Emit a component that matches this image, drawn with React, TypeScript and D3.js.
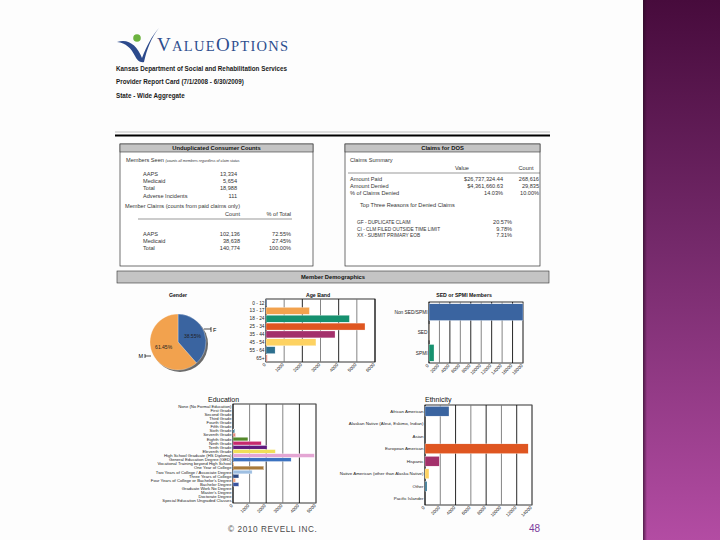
import { scaleBand, scaleLinear, pie, arc } from "d3";

const FONT = "Liberation Sans, Arial, sans-serif";

// palette used by the report charts
const palette = [
  "#3a64a0", "#f2a24e", "#16916f", "#df5621", "#a3306b", "#fdd262",
  "#2d6f8e", "#e4887a", "#54882a", "#c62a6e", "#5e1a7e", "#f0df58",
  "#e4a6d4", "#3b72c0", "#f4b06e", "#a87a3a", "#9ebfe2", "#2c4a84",
  "#f4a47e", "#3954a0", "#888888", "#555555", "#aaaaaa", "#777777",
];

const genderCats = ["F", "M"];
const genderPct = [38.55, 61.45];

const ageBands = ["0 - 12", "13 - 17", "18 - 24", "25 - 34", "35 - 44", "45 - 54", "55 - 64", "65+"];
const ageCounts = [40, 2390, 4590, 5450, 3800, 2750, 500, 70];
const ageTicks = [0, 1000, 2000, 3000, 4000, 5000, 6000];

const sedCats = ["Non SED/SPMI", "SED", "SPMI"];
const sedCounts = [18000, 30, 960];
const sedTicks = [0, 2000, 4000, 6000, 8000, 10000, 12000, 14000, 16000, 18000];

const eduCats = [
  "None (No Formal Education)", "First Grade", "Second Grade", "Third Grade",
  "Fourth Grade", "Fifth Grade", "Sixth Grade", "Seventh Grade", "Eighth Grade",
  "Ninth Grade", "Tenth Grade", "Eleventh Grade", "High School Graduate (HS Diploma)",
  "General Education Degree (GED)", "Vocational Training beyond High School",
  "One Year of College", "Two Years of College / Associate Degree",
  "Three Years of College", "Four Years of College or Bachelor's Degree",
  "Bachelor Degree", "Graduate Work No Degree", "Master's Degree",
  "Doctorate Degree", "Special Education Ungraded Classes",
];
const eduCounts = [0, 0, 0, 0, 0, 0, 100, 150, 900, 1700, 2050, 2550, 4900, 3500, 60, 1850, 1150, 350, 150, 350, 0, 0, 0, 0];
const eduTicks = [0, 1000, 2000, 3000, 4000, 5000];

const ethCats = [
  "African American", "Alaskan Native (Aleut, Eskimo, Indian)", "Asian",
  "European American", "Hispanic", "Native American (other than Alaska Native)",
  "Other", "Pacific Islander",
];
const ethCounts = [3140, 0, 0, 13500, 1870, 520, 260, 0];
const ethTicks = [0, 2000, 4000, 6000, 8000, 10000, 12000, 14000];

const seenRows = [
  ["AAPS", "13,334"],
  ["Medicaid", "5,654"],
  ["Total", "18,988"],
  ["Adverse Incidents", "111"],
];
const claimRows = [
  ["AAPS", "102,136", "72.55%"],
  ["Medicaid", "38,638", "27.45%"],
  ["Total", "140,774", "100.00%"],
];
const summaryRows = [
  ["Amount Paid", "$26,737,324.44", "268,616"],
  ["Amount Denied", "$4,361,660.63", "29,835"],
  ["% of Claims Denied", "14.03%", "10.00%"],
];
const denyRows = [
  ["GF - DUPLICATE CLAIM", "20.57%"],
  ["CI - CLM FILED OUTSIDE TIME LIMIT", "9.78%"],
  ["XX - SUBMIT PRIMARY EOB", "7.31%"],
];

function HBar({ x0, x1, y0, y1, cats, vals, ticks, pad, fs }: any) {
  const x = scaleLinear().domain([0, ticks[ticks.length - 1]]).range([x0, x1]);
  const y = scaleBand().domain(cats).range([y0, y1]).paddingInner(pad).paddingOuter(pad / 2);
  return (
    <g fontFamily={FONT}>
      <rect x={x0} y={y0} width={x1 - x0} height={y1 - y0} fill="#fff" stroke="#000" strokeWidth={0.8} />
      {ticks.map((t: number, i: number) => (
        <line key={t} x1={x(t)} x2={x(t)} y1={y0} y2={y1} stroke={i % 2 ? "#777" : "#111"} strokeWidth={0.9} />
      ))}
      {cats.map((c: string, i: number) => (
        <rect key={c} x={x(0)} y={y(c)} width={Math.max(0, x(vals[i]) - x(0))} height={y.bandwidth()}
          fill={palette[i]} stroke="#fff" strokeWidth={0.3} />
      ))}
      {cats.map((c: string) => (
        <text key={c} x={x0 - 1.5} y={(y(c) as number) + y.bandwidth() / 2} dy="0.35em" textAnchor="end"
          fontSize={fs} fill="#222">{c}</text>
      ))}
      {ticks.map((t: number) => (
        <text key={t} x={x(t)} y={y1 + 3} textAnchor="end" fontSize={4.6} fill="#222"
          transform={`rotate(-45, ${x(t)}, ${y1 + 3})`}>{t}</text>
      ))}
    </g>
  );
}

function Gender() {
  const cx = 178, cy = 342, r = 28;
  const arcs = pie<number>().sort(null)(genderPct);
  const a = arc<any>().innerRadius(0).outerRadius(r);
  const lab = arc<any>().innerRadius(r * 0.55).outerRadius(r * 0.55);
  return (
    <g fontFamily={FONT}>
      <circle cx={cx + 2} cy={cy + 2} r={r} fill="#6a6a6a" />
      <g transform={`translate(${cx},${cy})`}>
        {arcs.map((d, i) => (
          <path key={i} d={a(d) as string} fill={i === 0 ? palette[0] : palette[1]} stroke="#fff" strokeWidth={0.3} />
        ))}
        {arcs.map((d, i) => {
          const [lx, ly] = lab.centroid(d);
          return (
            <text key={i} x={lx} y={ly} dy="0.35em" textAnchor="middle" fontSize={5} fill="#222">
              {genderPct[i].toFixed(2)}%
            </text>
          );
        })}
      </g>
      <path d="M204,329 H211 M211,327 V332" stroke="#000" strokeWidth={0.7} fill="none" />
      <text x={213} y={330} dy="0.35em" fontSize={5.5}>{genderCats[0]}</text>
      <path d="M151,356 H145 M145,354 V358" stroke="#000" strokeWidth={0.7} fill="none" />
      <text x={143} y={356} dy="0.35em" textAnchor="end" fontSize={5.5}>{genderCats[1]}</text>
    </g>
  );
}

function Logo() {
  return (
    <g>
      <path d="M117,42 C128,38 137,45 142,58 C147,45 152,36 159,28 C151,38 147,49 144,62 C140,63 137,60 135,56 C131,48 126,43 117,42 Z"
        fill="#2c4a8c" />
      <circle cx={137} cy={38} r={3.8} fill="#6cb33f" />
      <text x={157} y={51} fontFamily="Liberation Serif, Times New Roman, serif" fill="#2d4e8e" letterSpacing={1.3}>
        <tspan fontSize={19}>V</tspan>
        <tspan fontSize={14.5}>ALUE</tspan>
        <tspan fontSize={19}>O</tspan>
        <tspan fontSize={14.5}>PTIONS</tspan>
      </text>
    </g>
  );
}

function BoxHeader({ x, y, w, h, title }: any) {
  return (
    <g>
      <rect x={x} y={y} width={w} height={h} fill="#c4c4c4" stroke="#333" strokeWidth={0.6} />
      <text x={x + w / 2} y={y + h / 2} dy="0.35em" textAnchor="middle" fontSize={5.8} fontWeight="bold"
        fontFamily={FONT} fill="#111">{title}</text>
    </g>
  );
}

export default function App() {
  return (
    <svg width={720} height={540} style={{ position: "absolute", left: 0, top: 0 }}>
      <defs>
        <linearGradient id="side" x1="0" y1="0" x2="0" y2="1">
          <stop offset="0%" stopColor="#470b3c" />
          <stop offset="45%" stopColor="#74296a" />
          <stop offset="100%" stopColor="#b34ca3" />
        </linearGradient>
        <linearGradient id="edge" x1="0" y1="0" x2="1" y2="0">
          <stop offset="0%" stopColor="#2a0a25" stopOpacity={0.7} />
          <stop offset="100%" stopColor="#2a0a25" stopOpacity={0} />
        </linearGradient>
      </defs>
      <rect width={720} height={540} fill="#fdfdfd" />
      <rect x={643} y={0} width={77} height={540} fill="url(#side)" />
      <rect x={643} y={0} width={4} height={540} fill="url(#edge)" />

      <Logo />
      <g fontFamily={FONT} fontWeight="bold" fontSize={6.3} fill="#1a1a1a">
        <text x={116} y={71}>Kansas Department of Social and Rehabilitation Services</text>
        <text x={116} y={84}>Provider Report Card (7/1/2008 - 6/30/2009)</text>
        <text x={116} y={98}>State - Wide Aggregate</text>
      </g>

      <line x1={115} x2={550} y1={132} y2={132} stroke="#999" strokeWidth={0.6} />
      <line x1={115} x2={550} y1={135.5} y2={135.5} stroke="#000" strokeWidth={2} />

      {/* Unduplicated consumer counts */}
      <rect x={120} y={144} width={193} height={122} fill="#fff" stroke="#333" strokeWidth={0.7} />
      <BoxHeader x={120} y={144} w={193} h={8} title="Unduplicated Consumer Counts" />
      <g fontFamily={FONT} fill="#333" fontSize={5.6}>
        <text x={126} y={162}>Members Seen <tspan fontSize={3.6} fontStyle="italic">(counts all members regardless of claim status</tspan></text>
        {seenRows.map((r, i) => (
          <g key={r[0]}>
            <text x={143} y={176 + i * 7.2}>{r[0]}</text>
            <text x={237} y={176 + i * 7.2} textAnchor="end">{r[1]}</text>
          </g>
        ))}
        <text x={125} y={208}>Member Claims (counts from paid claims only)</text>
        <text x={240} y={216} textAnchor="end">Count</text>
        <text x={291} y={216} textAnchor="end">% of Total</text>
        <line x1={138} x2={292} y1={219} y2={219} stroke="#333" strokeWidth={0.5} />
        {claimRows.map((r, i) => (
          <g key={r[0]}>
            <text x={143} y={236 + i * 7}>{r[0]}</text>
            <text x={240} y={236 + i * 7} textAnchor="end">{r[1]}</text>
            <text x={291} y={236 + i * 7} textAnchor="end">{r[2]}</text>
          </g>
        ))}
      </g>

      {/* Claims for DOS */}
      <rect x={345} y={144} width={195} height={122} fill="#fff" stroke="#333" strokeWidth={0.7} />
      <BoxHeader x={345} y={144} w={195} h={8} title="Claims for DOS" />
      <g fontFamily={FONT} fill="#333" fontSize={5.6}>
        <text x={350} y={162}>Claims Summary</text>
        <text x={462} y={170} textAnchor="middle">Value</text>
        <text x={526} y={170} textAnchor="middle">Count</text>
        <line x1={348} x2={540} y1={173} y2={173} stroke="#333" strokeWidth={0.5} />
        {summaryRows.map((r, i) => (
          <g key={r[0]}>
            <text x={350} y={181 + i * 7}>{r[0]}</text>
            <text x={503} y={181 + i * 7} textAnchor="end">{r[1]}</text>
            <text x={539} y={181 + i * 7} textAnchor="end">{r[2]}</text>
          </g>
        ))}
        <text x={360} y={207}>Top Three Reasons for Denied Claims</text>
        {denyRows.map((r, i) => (
          <g key={r[0]} fontSize={4.8}>
            <text x={357} y={224 + i * 6.5}>{r[0]}</text>
            <text x={512} y={224 + i * 6.5} textAnchor="end" fontSize={5.6}>{r[1]}</text>
          </g>
        ))}
      </g>

      {/* Member demographics */}
      <BoxHeader x={117} y={271} w={432} h={12} title="Member Demographics" />
      <g fontFamily={FONT} fontWeight="bold" fontSize={5.2} textAnchor="middle" fill="#111">
        <text x={178} y={297}>Gender</text>
        <text x={318} y={297}>Age Band</text>
        <text x={464} y={297}>SED or SPMI Members</text>
      </g>
      <Gender />
      <HBar x0={266} x1={375} y0={299} y1={362} cats={ageBands} vals={ageCounts} ticks={ageTicks} pad={0.12} fs={4.8} />
      <HBar x0={429} x1={523} y0={302} y1={363} cats={sedCats} vals={sedCounts} ticks={sedTicks} pad={0.18} fs={4.8} />

      <g fontFamily={FONT} fontSize={7} fill="#111">
        <text x={208} y={402}>Education</text>
        <text x={425} y={402}>Ethnicity</text>
      </g>
      <HBar x0={233} x1={316} y0={404} y1={503} cats={eduCats} vals={eduCounts} ticks={eduTicks} pad={0.12} fs={4.2} />
      <HBar x0={425} x1={532} y0={405} y1={505} cats={ethCats} vals={ethCounts} ticks={ethTicks} pad={0.22} fs={4.4} />

      <text x={228} y={532} fontFamily={FONT} fontSize={8.2} letterSpacing={0.6} fill="#4a4a4a">© 2010 REVELL INC.</text>
      <text x={529} y={532} fontFamily={FONT} fontSize={10} fill="#7b3a9c">48</text>
    </svg>
  );
}
